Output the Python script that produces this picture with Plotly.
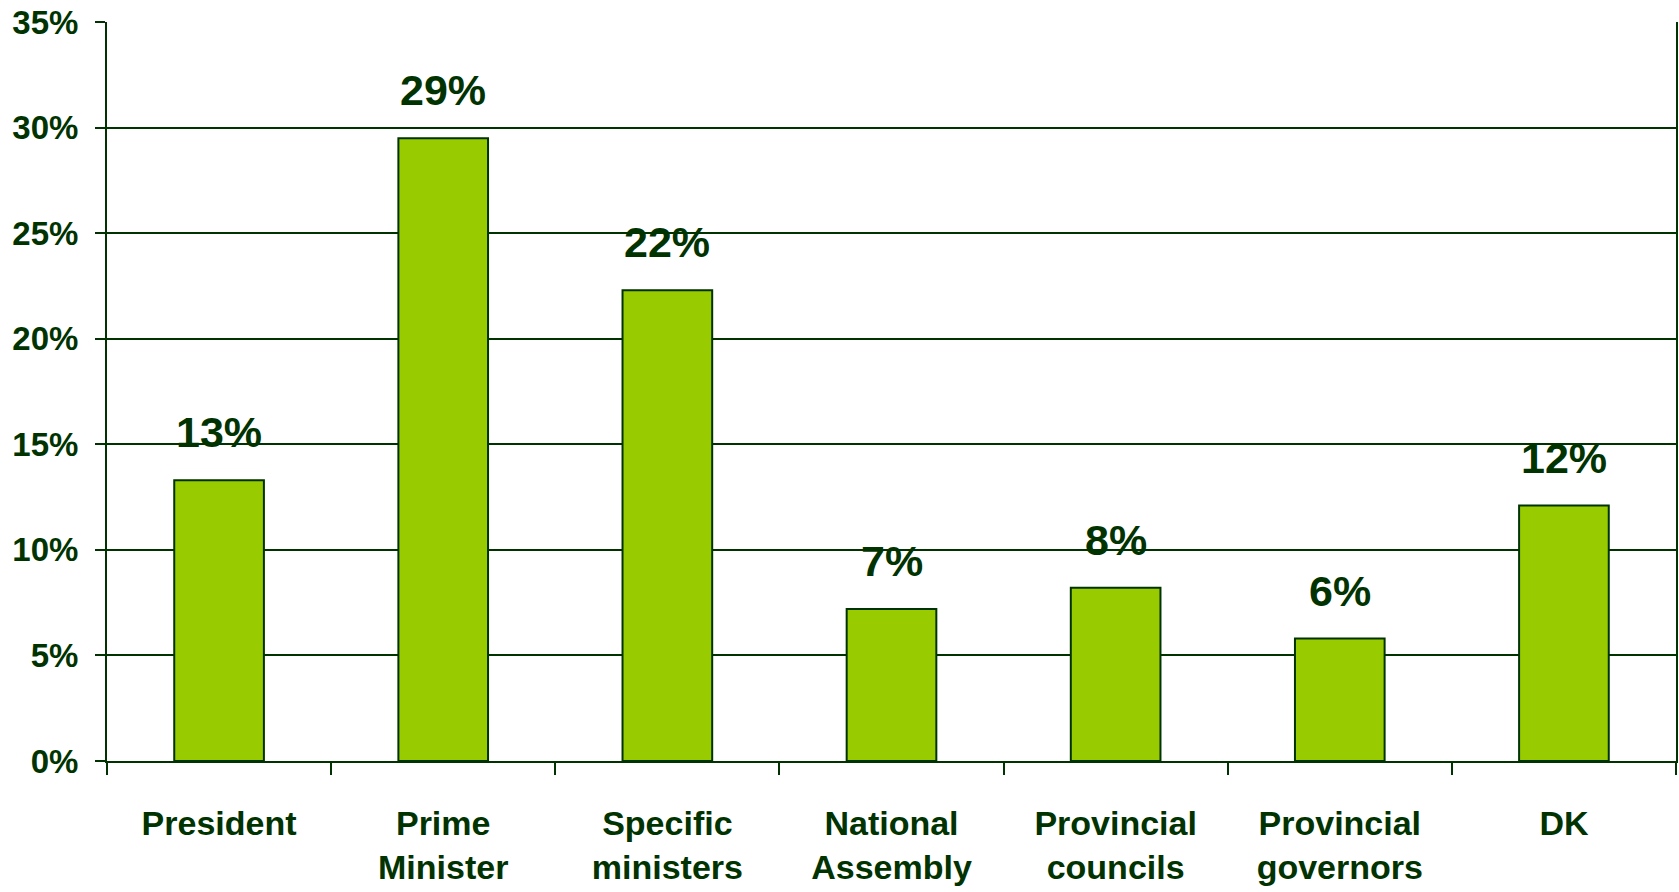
import plotly.graph_objects as go

categories = ["President", "Prime<br>Minister", "Specific<br>ministers", "National<br>Assembly",
              "Provincial<br>councils", "Provincial<br>governors", "DK"]
values = [13.3, 29.5, 22.3, 7.2, 8.2, 5.8, 12.1]
labels = ["13%", "29%", "22%", "7%", "8%", "6%", "12%"]
y_ticks = [0, 5, 10, 15, 20, 25, 30, 35]

DARK = "#003300"
FONT = "Liberation Sans, Arial, sans-serif"

fig = go.Figure()
fig.add_trace(go.Bar(
    x=categories, y=values,
    marker=dict(color="#99CC00", line=dict(color=DARK, width=2)),
    width=0.4, hoverinfo="skip",
))

for c, v, t in zip(categories, values, labels):
    fig.add_annotation(x=c, y=v, text="<b>%s</b>" % t, showarrow=False,
                       yanchor="bottom", yshift=22,
                       font=dict(family=FONT, size=43, color=DARK))

fig.update_layout(
    width=1679, height=892,
    margin=dict(l=107, r=3, t=22, b=131),
    paper_bgcolor="white", plot_bgcolor="white",
    showlegend=False,
    font=dict(family=FONT, color=DARK),
)
fig.update_xaxes(
    automargin=False,
    showgrid=False, showline=True, linecolor=DARK, linewidth=2,
    ticks="outside", tickson="boundaries", ticklen=12, tickwidth=2, tickcolor=DARK,
    tickfont=dict(family=FONT, size=34, color=DARK, weight="bold"),
    ticklabelstandoff=31,
)
fig.update_yaxes(
    automargin=False,
    range=[0, 35], tickvals=y_ticks, ticktext=["%d%%" % v for v in y_ticks],
    showgrid=True, gridcolor=DARK, gridwidth=2,
    showline=True, linecolor=DARK, linewidth=2, mirror=True,
    ticks="outside", ticklen=10, tickwidth=2, tickcolor=DARK,
    tickfont=dict(family=FONT, size=33, color=DARK, weight="bold"),
    ticklabelstandoff=10, zeroline=False,
)
fig.write_html("out.html", config={"displayModeBar": False},
               post_script="document.body.style.margin='0';document.body.style.overflow='hidden';")
